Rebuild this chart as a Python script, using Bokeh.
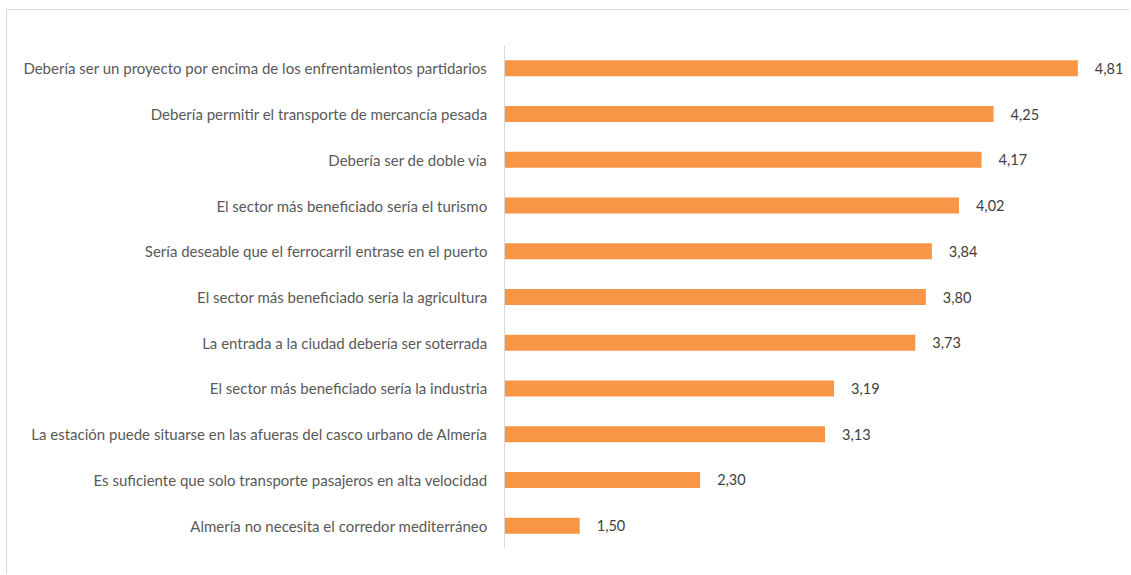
from bokeh.plotting import figure
from bokeh.models import ColumnDataSource, LabelSet, Range1d
from bokeh.core.properties import value
from bokeh.embed import file_html
from bokeh.resources import INLINE

categories = [
    "Debería ser un proyecto por encima de los enfrentamientos partidarios",
    "Debería permitir el transporte de mercancía pesada",
    "Debería ser de doble vía",
    "El sector más beneficiado sería el turismo",
    "Sería deseable que el ferrocarril entrase en el puerto",
    "El sector más beneficiado sería la agricultura",
    "La entrada a la ciudad debería ser soterrada",
    "El sector más beneficiado sería la industria",
    "La estación puede situarse en las afueras del casco urbano de Almería",
    "Es suficiente que solo transporte pasajeros en alta velocidad",
    "Almería no necesita el corredor mediterráneo",
]
values = [4.81, 4.25, 4.17, 4.02, 3.84, 3.80, 3.73, 3.19, 3.13, 2.30, 1.50]
value_labels = [f"{v:.2f}".replace(".", ",") for v in values]

FONT = "Lato"

src = ColumnDataSource(dict(cat=categories, val=values, lab=value_labels,
                            base=[1.0] * len(values)))

p = figure(width=1123, height=565, y_range=list(reversed(categories)),
           x_range=Range1d(1, 5.14), output_backend="svg", toolbar_location=None,
           min_border_left=497, min_border_right=3, min_border_top=35,
           min_border_bottom=27, outline_line_color=None,
           styles={"border-left": "1px solid #d9d9d9",
                   "border-top": "1px solid #d9d9d9",
                   "margin-left": "6px", "margin-top": "9px"})

p.hbar(y="cat", left="base", right="val", height=0.35, source=src,
       fill_color="#F79646", line_color=None)

labels = LabelSet(x="val", y="cat", text="lab", source=src, x_offset=17,
                  text_baseline="middle", text_font_size="14.5px",
                  text_color="#404040", text_font=value(FONT))
p.add_layout(labels)

p.xaxis.visible = False
p.xgrid.grid_line_color = None
p.ygrid.grid_line_color = None
p.yaxis.axis_line_color = "#d9d9d9"
p.yaxis.axis_line_width = 1
p.yaxis.major_tick_line_color = None
p.yaxis.minor_tick_line_color = None
p.yaxis.major_label_text_font_size = "15px"
p.yaxis.major_label_text_color = "#595959"
p.yaxis.major_label_text_font = FONT
p.yaxis.major_label_standoff = 11
p.y_range.range_padding = 0

open("out.html", "w").write(file_html(p, INLINE))
